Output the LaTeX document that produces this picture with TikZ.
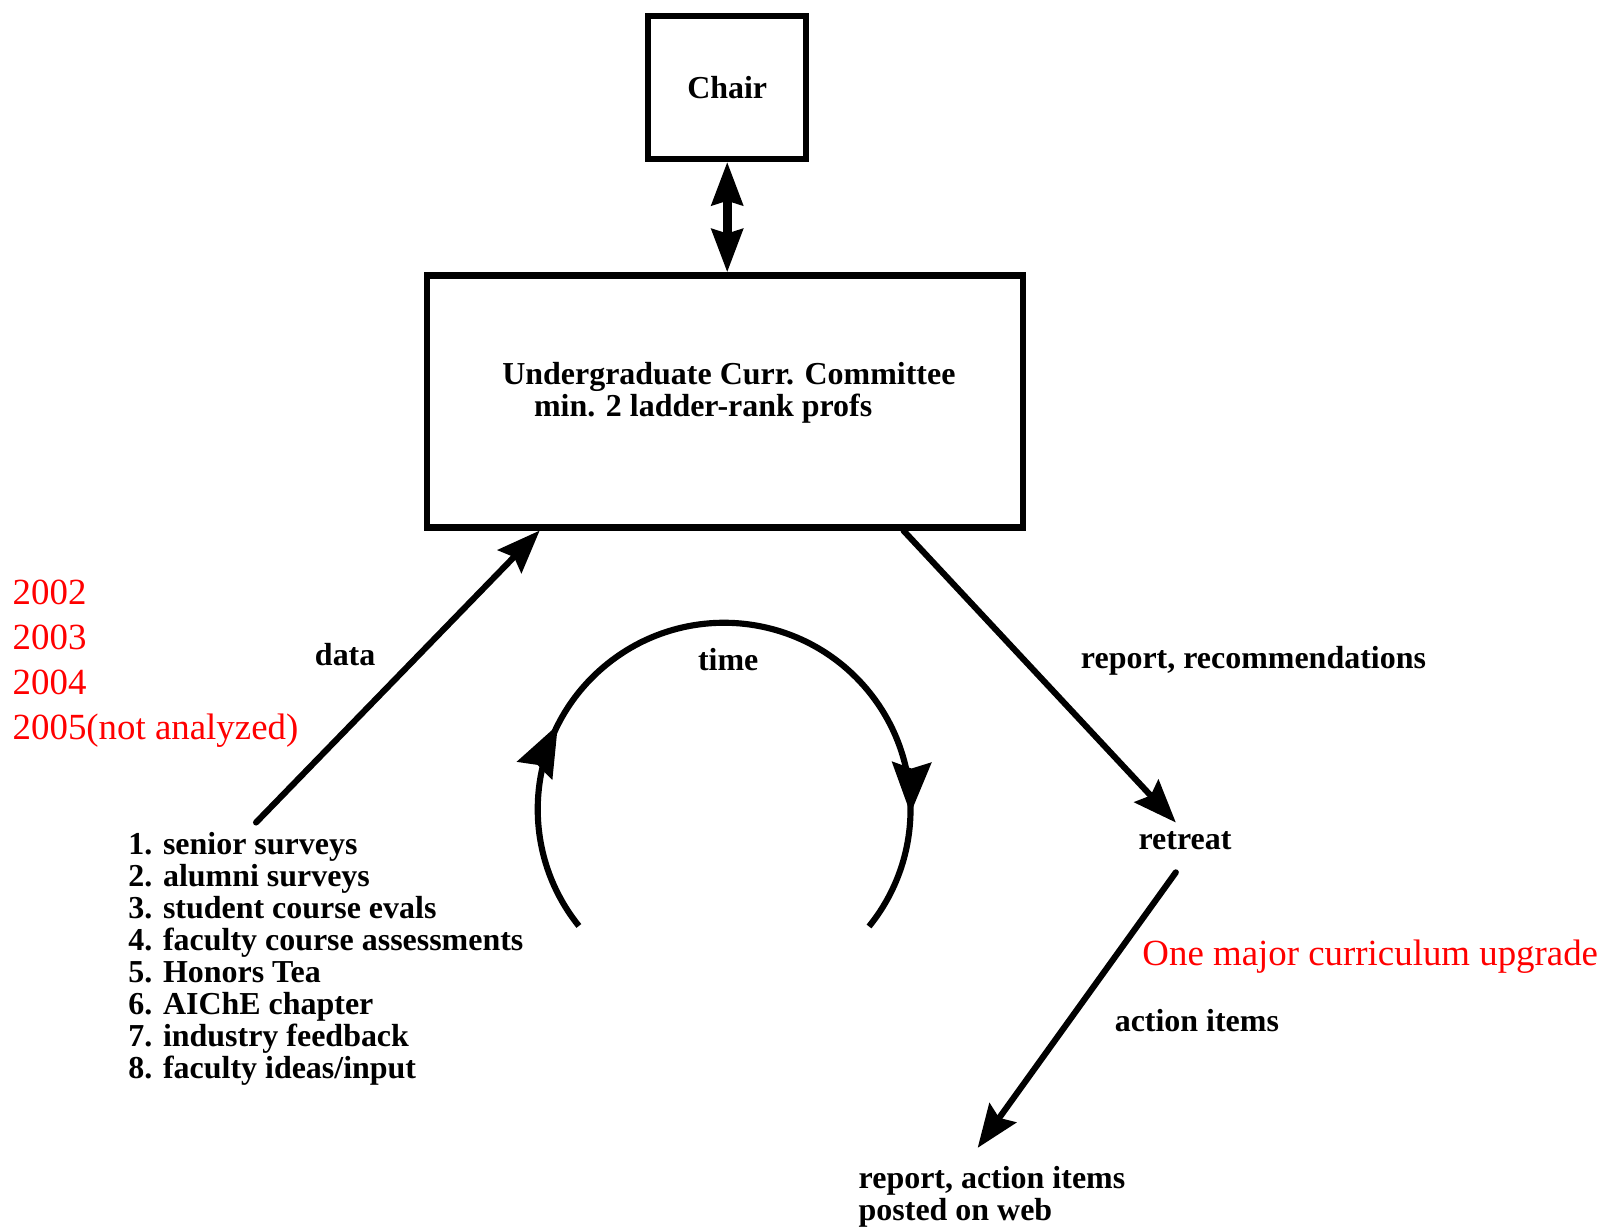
\documentclass[tikz,border=0pt]{standalone}
\usepackage{fontspec}
\setmainfont{Liberation Serif}
\usetikzlibrary{arrows.meta,calc,decorations.markings}
\begin{document}
\begin{tikzpicture}[x=0.5pt,y=0.5pt,
  box/.style={draw, line width=3pt, inner sep=0pt},
  lbl/.style={inner sep=0pt, font=\bfseries\fontsize{15.6}{15.65}\selectfont},
  redlbl/.style={inner sep=0pt, text=red, font=\fontsize{18}{22}\selectfont},
  conn/.style={line width=3pt, line cap=round, -{Stealth[length=21pt,width=16pt,inset=3pt]}},
  dblconn/.style={line width=4.2pt, {Stealth[length=21pt,width=15pt,inset=2pt]}-{Stealth[length=21pt,width=15pt,inset=2pt]}},
  arcline/.style={line width=3pt},
  arctip/.tip={Stealth[length=25pt,width=19pt,inset=3pt]},
]
\useasboundingbox (0,0) rectangle (1568,-1200);

% boxes
\node[box, minimum width=77pt, minimum height=69.5pt, font=\bfseries\fontsize{15.6}{15.65}\selectfont] (chair) at (710,-85.5) {Chair};
\node[box, minimum width=291pt, minimum height=123pt] (ucc) at (708,-392) {};
\node[lbl, anchor=base west] (ucctext) at (490,-375)
  {\begin{tabular}[t]{@{}l@{}}Undergraduate Curr. Committee\\\hspace*{15.5pt}min. 2 ladder-rank profs\end{tabular}};

% labels
\node[redlbl, anchor=base west] (years) at (12,-590)
  {\begin{tabular}[t]{@{}l@{}}2002\\2003\\2004\\2005(not analyzed)\end{tabular}};
\node[lbl, anchor=base west] (sources) at (125,-834)
  {\begin{tabular}[t]{@{}l@{}}1. senior surveys\\2. alumni surveys\\3. student course evals\\4. faculty course assessments\\5. Honors Tea\\6. AIChE chapter\\7. industry feedback\\8. faculty ideas/input\end{tabular}};
\node[lbl, anchor=base] (datalbl) at (337,-650) {data};
\node[lbl, anchor=base] (timelbl) at (711,-655) {time};
\node[lbl, anchor=base west] (replbl) at (1055,-653) {report, recommendations};
\node[lbl, anchor=base] (retreat) at (1157,-829) {retreat};
\node[redlbl, anchor=base west] (upgrade) at (1115,-943) {One major curriculum upgrade};
\node[lbl, anchor=base west] (actlbl) at (1088,-1007) {action items};
\node[lbl, anchor=base west] (posted) at (838,-1160)
  {\begin{tabular}[t]{@{}l@{}}report, action items\\posted on web\end{tabular}};

% connectors
\draw[dblconn] (chair.south) -- (chair.south |- ucc.north);
\coordinate (dataS) at (250,-803);
\draw[conn] (dataS) -- ($(ucc.south west)!0.192!(ucc.south east)$);
\draw[conn] ($(ucc.south west)!0.796!(ucc.south east)$) -- ($(retreat.north)+(-9,8)$);
\draw[conn] ($(retreat.south)+(-9,-22)$) -- ($(posted.north)+(-14,17)$);

% time cycle
\coordinate (tc) at (707,-790);
\draw[arcline, postaction=decorate, decoration={markings,
    mark=at position 0.255 with {\arrow{arctip}},
    mark=at position 0.854 with {\arrow{arctip}}}]
  ($(tc)+(218.8:182)$) arc[start angle=218.8, end angle=-39, radius=182];
\end{tikzpicture}
\end{document}
